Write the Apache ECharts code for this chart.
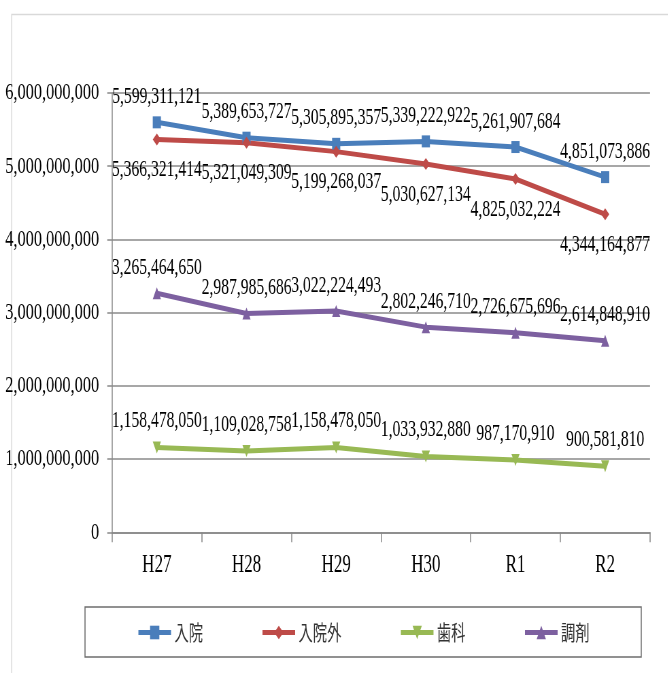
<!DOCTYPE html>
<html>
<head>
<meta charset="utf-8">
<script src="https://cdn.jsdelivr.net/npm/echarts@6/dist/echarts.min.js"></script>
<style>
html,body{margin:0;padding:0;background:#fff;}
#wrap{width:668px;height:673px;overflow:hidden;position:relative;}
#c{width:982px;height:673px;transform:scaleX(0.68);transform-origin:0 0;}
</style>
</head>
<body>
<div id="wrap"><div id="c"></div></div>
<script>
const categories = ['H27', 'H28', 'H29', 'H30', 'R1', 'R2'];
const nyuin = [5599311121, 5389653727, 5305895357, 5339222922, 5261907684, 4851073886];
const nyuingai = [5366321414, 5321049309, 5199268037, 5030627134, 4825032224, 4344164877];
const shika = [1158478050, 1109028758, 1158478050, 1033932880, 987170910, 900581810];
const chozai = [3265464650, 2987985686, 3022224493, 2802246710, 2726675696, 2614848910];
const seriesNames = ['入院', '入院外', '歯科', '調剤'];

const S = 0.68;
const fmt = v => Number(v).toLocaleString('en-US');
const serif = '"Liberation Serif", "Times New Roman", serif';

function mk(name, data, color, symbol, pos, dist, rot) {
  return {
    name: name, type: 'line', data: data,
    symbol: symbol, symbolSize: 12, symbolRotate: rot || 0,
    lineStyle: { color: color, width: 5 },
    itemStyle: { color: color },
    label: {
      show: true, position: pos, distance: dist,
      formatter: p => fmt(p.value),
      fontFamily: serif, fontSize: 23, color: '#000'
    },
    z: 3
  };
}

const chart = echarts.init(document.getElementById('c'), null, { renderer: 'canvas' });
chart.setOption({
  animation: false,
  backgroundColor: '#fff',
  graphic: [{
    type: 'rect', left: 10 / S, top: 12,
    shape: { x: 0, y: 0, width: 2000, height: 2000 },
    style: { fill: 'none', stroke: '#d9d9d9', lineWidth: 1.5 },
    silent: true, z: 0
  }],
  grid: { left: 112 / S, right: 982 - 650 / S, top: 93, bottom: 673 - 532.3, containLabel: false },
  legend: {
    data: seriesNames,
    left: 85 / S, top: 607,
    padding: [15, 76, 14, 76],
    itemGap: 85, itemWidth: 48, itemHeight: 17,
    lineStyle: { width: 5 },
    borderColor: '#6e6e6e', borderWidth: 1.5,
    textStyle: { fontFamily: '"Noto Sans CJK JP", sans-serif', fontSize: 21, color: '#333' }
  },
  xAxis: {
    type: 'category', data: categories, boundaryGap: true,
    axisLine: { lineStyle: { color: '#888', width: 1.5 } },
    axisTick: { show: true, length: 10, interval: 0, lineStyle: { color: '#888', width: 1.5 } },
    axisLabel: { margin: 21, fontFamily: serif, fontSize: 25, color: '#000' }
  },
  yAxis: {
    type: 'value', min: 0, max: 6000000000, interval: 1000000000,
    axisLine: { show: true, lineStyle: { color: '#888', width: 1.5 } },
    axisTick: { show: true, length: 7, lineStyle: { color: '#888', width: 1.5 } },
    splitLine: { lineStyle: { color: '#8a8a8a', width: 1.5 } },
    axisLabel: { margin: 19, fontFamily: serif, fontSize: 24, color: '#000', formatter: v => fmt(v) }
  },
  series: [
    mk('入院', nyuin, '#4A7EBB', 'rect', 'top', 8),
    mk('入院外', nyuingai, '#BE4B48', 'diamond', 'bottom', 13),
    mk('歯科', shika, '#98B954', 'triangle', 'top', 9, 180),
    mk('調剤', chozai, '#7D60A0', 'triangle', 'top', 8)
  ]
});
</script>
</body>
</html>
